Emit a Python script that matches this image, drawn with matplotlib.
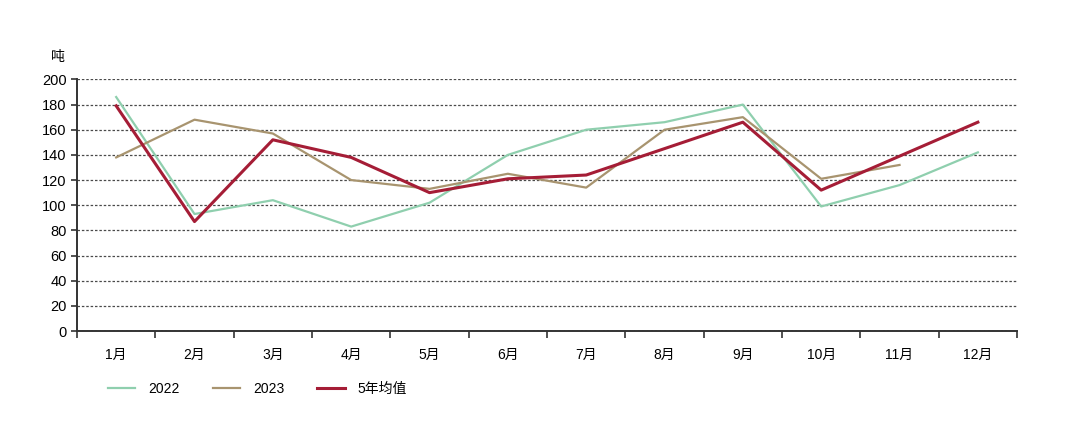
import matplotlib
matplotlib.use("Agg")
import matplotlib.pyplot as plt
import numpy as np

plt.rcParams['font.family'] = ['Liberation Sans', 'Noto Sans CJK SC', 'DejaVu Sans']

months = ['1月', '2月', '3月', '4月', '5月', '6月', '7月', '8月', '9月', '10月', '11月', '12月']
y2022 = [186, 93, 104, 83, 102, 140, 160, 166, 180, 99, 116, 142]
y2023 = [138, 168, 157, 120, 113, 125, 114, 160, 170, 121, 132]
avg5 = [179, 87, 152, 138, 110, 121, 124, 145, 166, 112, 139, 166]

fig = plt.figure(figsize=(10.8, 4.34), dpi=100)
ax = fig.add_axes([0.0713, 0.2373, 0.8704, 0.5797])

x = np.arange(len(months))
ax.plot(x, y2022, color='#8fcfae', lw=1.6, label='2022')
ax.plot(x[:len(y2023)], y2023, color='#a8946f', lw=1.6, label='2023')
ax.plot(x, avg5, color='#a51d36', lw=2.2, label='5年均值')

ax.set_xlim(-0.5, len(months) - 0.5)
ax.set_ylim(0, 200)
ax.set_yticks(np.arange(0, 201, 20))
ax.set_xticks(x)
ax.set_xticklabels(months, fontsize=10)
ax.set_xticks(np.arange(-0.5, len(months), 1), minor=True)
ax.tick_params(axis='x', which='major', length=0, pad=12)
ax.tick_params(axis='x', which='minor', length=5, width=1.2, color='#333333')
ax.tick_params(axis='y', length=4, width=1.2, color='#333333', labelsize=10.5)
ax.grid(axis='y', linestyle=(0, (2, 1.5)), color='#4a4a4a', lw=0.9)
for s in ['top', 'right']:
    ax.spines[s].set_visible(False)
for s in ['left', 'bottom']:
    ax.spines[s].set_linewidth(1.4)
    ax.spines[s].set_color('#333333')

fig.text(0.054, 0.868, '吨', fontsize=10, ha='center', va='center')

fig.legend(loc='center left', bbox_to_anchor=(0.088, 0.103), ncol=3, frameon=False,
           fontsize=10, handlelength=2.0, columnspacing=2.4, handletextpad=0.9)

fig.savefig('out.png', dpi=100)
